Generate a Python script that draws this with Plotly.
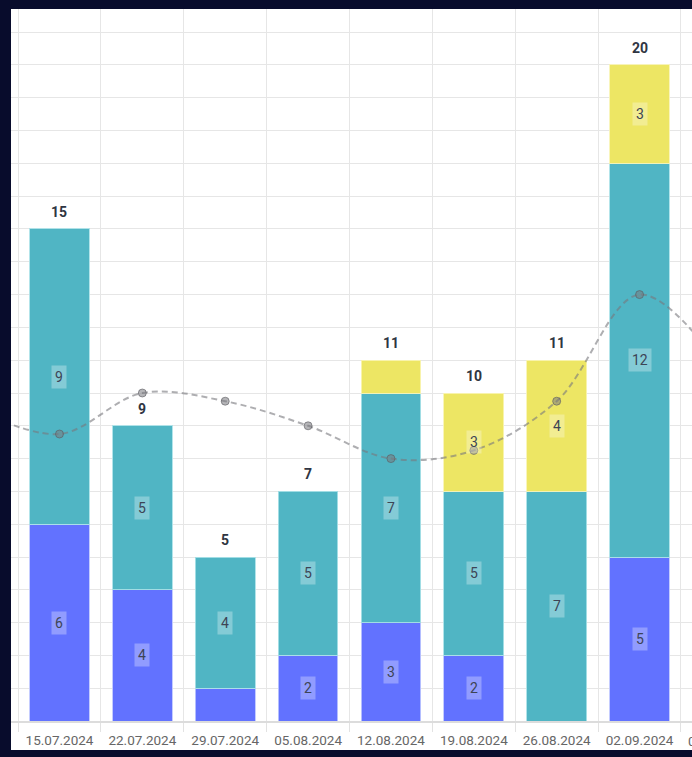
import plotly.graph_objects as go

# ---------------- data ----------------
dates = ["08.07.2024", "15.07.2024", "22.07.2024", "29.07.2024", "05.08.2024",
         "12.08.2024", "19.08.2024", "26.08.2024", "02.09.2024", "09.09.2024"]
bar_dates = ["15.07.2024", "22.07.2024", "29.07.2024", "05.08.2024",
             "12.08.2024", "19.08.2024", "26.08.2024", "02.09.2024"]
blue_vals = [6, 4, 1, 2, 3, 2, 0, 5]
teal_vals = [9, 5, 4, 5, 7, 5, 7, 12]
yellow_vals = [0, 0, 0, 0, 1, 3, 4, 3]
totals = [15, 9, 5, 7, 11, 10, 11, 20]
avg_vals = [9.5, 8.75, 10, 9.75, 9, 8, 8.25, 9.75, 13, 10.75]

# ---------------- style ----------------
W, H = 692, 757
ML, MR, MT, MB = 11, 0, 9, 36
WHITE_BOTTOM_PX = 750
X_RANGE = [0.415, 8.633]
Y_RANGE = [0, 21.707]
FONT = "Roboto, Arial, sans-serif"

series = [
    (blue_vals, "rgb(98,114,255)", "rgba(190,198,255,0.9)"),
    (teal_vals, "rgb(80,181,196)", "rgba(170,225,232,0.9)"),
    (yellow_vals, "rgb(237,230,100)", "rgba(248,244,180,0.9)"),
]

fig = go.Figure()
for vals, col, edge in series:
    fig.add_trace(go.Bar(
        x=bar_dates, y=[v if v else None for v in vals],
        marker=dict(color=col, line=dict(color=edge, width=1)),
        hoverinfo="skip",
    ))

fig.add_trace(go.Scatter(
    x=dates, y=avg_vals, mode="lines+markers",
    line=dict(color="rgba(120,120,125,0.6)", width=2, dash="6px,4px", shape="spline", smoothing=1),
    marker=dict(size=8, color="rgba(120,120,125,0.55)", line=dict(color="rgba(90,90,95,0.6)", width=1)),
    hoverinfo="skip",
))

annotations = []
# segment labels
for i, d in enumerate(bar_dates):
    base = 0
    for vals, _, _ in series:
        v = vals[i]
        if v >= 2:
            annotations.append(dict(
                x=d, y=base + v / 2, text=str(v), showarrow=False,
                font=dict(family=FONT, size=14, color="#3d4455"),
                bgcolor="rgba(255,255,255,0.3)", borderpad=3,
            ))
        base += v
    annotations.append(dict(
        x=d, y=totals[i], text="<b>%d</b>" % totals[i], showarrow=False,
        yanchor="bottom", yshift=7,
        font=dict(family=FONT, size=14, color="#2f3542"),
    ))

# partially visible tick label beyond right edge
annotations.append(dict(
    xref="paper", yref="paper",
    x=(len(dates) - 1 - X_RANGE[0]) / (X_RANGE[1] - X_RANGE[0]), y=0,
    xanchor="center", yanchor="middle", yshift=-20, text=dates[-1], showarrow=False,
    font=dict(family=FONT, size=13.5, color="#666666"),
))

plot_h = H - MT - MB
fig.update_layout(
    width=W, height=H,
    margin=dict(l=ML, r=MR, t=MT, b=MB, pad=0),
    paper_bgcolor="#080c2c", plot_bgcolor="white",
    barmode="stack", bargap=0.28, showlegend=False,
    font=dict(family=FONT),
    annotations=annotations,
    shapes=[dict(type="rect", xref="paper", yref="paper", layer="below",
                 x0=0, x1=1.1, y0=-(WHITE_BOTTOM_PX - (H - MB)) / plot_h, y1=1.0,
                 fillcolor="white", line=dict(width=0))],
    xaxis=dict(type="category", categoryorder="array", categoryarray=dates,
               range=X_RANGE, tickson="boundaries", ticks="outside", ticklen=9,
               tickcolor="#e2e2e2", showgrid=True, gridcolor="#e6e6e6",
               showline=True, linecolor="#dcdcdc", linewidth=2,
               ticklabelstandoff=6,
               tickfont=dict(family=FONT, size=13.5, color="#666666")),
    yaxis=dict(range=Y_RANGE, dtick=1, showticklabels=False, ticks="",
               showgrid=True, gridcolor="#e6e6e6", zeroline=False),
)

fig.write_html("out.html")
